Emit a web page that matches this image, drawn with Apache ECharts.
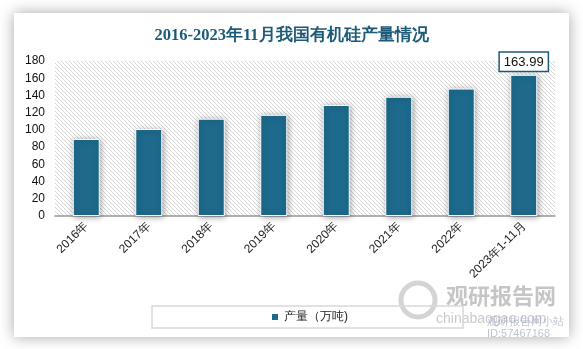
<!DOCTYPE html>
<html><head><meta charset="utf-8">
<script src="https://cdn.jsdelivr.net/npm/echarts@6/dist/echarts.min.js"></script>
<style>html,body{margin:0;padding:0;background:#fff}#c{width:583px;height:349px}</style>
</head><body><div id="c"></div>
<script>
const titleText = '2016-2023年11月我国有机硅产量情况';
const categories = ['2016年','2017年','2018年','2019年','2020年','2021年','2022年','2023年1-11月'];
const values = [89.5, 101, 113, 117.5, 129, 138.5, 148, 163.99];
const seriesName = '产量（万吨)';
const yTicks = {min: 0, max: 180, interval: 20};

// hatch pattern
const pc = document.createElement('canvas');
pc.width = 4; pc.height = 4;
const pctx = pc.getContext('2d');
pctx.fillStyle = '#ffffff'; pctx.fillRect(0,0,4,4);
pctx.strokeStyle = '#d6d6d6'; pctx.lineWidth = 1;
pctx.beginPath();
pctx.moveTo(0,0); pctx.lineTo(4,4);
pctx.moveTo(-2,2); pctx.lineTo(2,6);
pctx.moveTo(2,-2); pctx.lineTo(6,2);
pctx.stroke();

const chart = echarts.init(document.getElementById('c'));
chart.setOption({
  animation: false,
  title: {
    text: titleText, left: 'center', top: 22,
    textStyle: {fontFamily: 'serif', fontWeight: 'bold', fontSize: 16.5, color: '#1d5a78'}
  },
  graphic: [
    {type: 'rect', z: -10, shape: {x: 14, y: 13, width: 555, height: 324},
     style: {fill: '#fff', shadowBlur: 14, shadowColor: 'rgba(0,0,0,0.35)'}},
    {type: 'text', z: 1, left: 446, top: 285, style: {text: '观研报告网', fontSize: 22, fontWeight: 'bold', fill: 'rgba(150,150,150,0.55)', fontFamily: 'Noto Sans CJK SC'}},
    {type: 'text', z: 1, left: 436, top: 312, style: {text: 'chinabaogao.com', fontSize: 14, fill: 'rgba(150,150,150,0.5)', fontFamily: 'sans-serif'}},
    {type: 'circle', z: 1, shape: {cx: 418, cy: 300, r: 17}, style: {fill: 'none', stroke: 'rgba(170,170,170,0.5)', lineWidth: 5}},
    {type: 'text', z: 1, left: 487, top: 316, style: {text: '观研报告网小站', fontSize: 11, fill: 'rgba(160,170,190,0.7)'}},
    {type: 'text', z: 1, left: 487, top: 328, style: {text: 'ID:57467168', fontSize: 11, fill: 'rgba(160,170,190,0.7)'}}
  ],
  legend: {
    data: [seriesName], bottom: 21, left: 152, width: 318,
    padding: [5, 115, 5, 118],
    borderColor: '#d9d9d9', borderWidth: 1.5,
    itemWidth: 8, itemHeight: 8, itemGap: 5, icon: 'rect',
    textStyle: {fontSize: 12, color: '#222'}
  },
  grid: {
    left: 55, right: 28, top: 61, bottom: 133, show: true,
    backgroundColor: {image: pc, repeat: 'repeat'}, borderWidth: 0
  },
  xAxis: {
    type: 'category', data: categories,
    axisLine: {lineStyle: {color: '#999', width: 1.5}},
    axisTick: {show: false},
    axisLabel: {rotate: 45, fontSize: 12, color: '#222', margin: 8, interval: 0}
  },
  yAxis: {
    type: 'value', min: yTicks.min, max: yTicks.max, interval: yTicks.interval,
    axisLine: {show: false}, axisTick: {show: false}, splitLine: {show: false},
    axisLabel: {fontSize: 12, color: '#111', margin: 10}
  },
  series: [{
    name: seriesName, type: 'bar', data: values.map((v, i) => i === values.length - 1 ? {
      value: v,
      label: {show: true, position: 'top', distance: 4, formatter: '{c}', fontSize: 13, color: '#111',
        backgroundColor: '#fff', borderColor: '#1d5a78', borderWidth: 1.5, padding: [3, 4, 2, 4]}
    } : v),
    barWidth: 27,
    itemStyle: {color: '#1d6a8c', borderColor: '#fff', borderWidth: 1,
      shadowBlur: 6, shadowColor: 'rgba(0,0,0,0.35)', shadowOffsetX: 1, shadowOffsetY: 1}
  }]
});
</script></body></html>
